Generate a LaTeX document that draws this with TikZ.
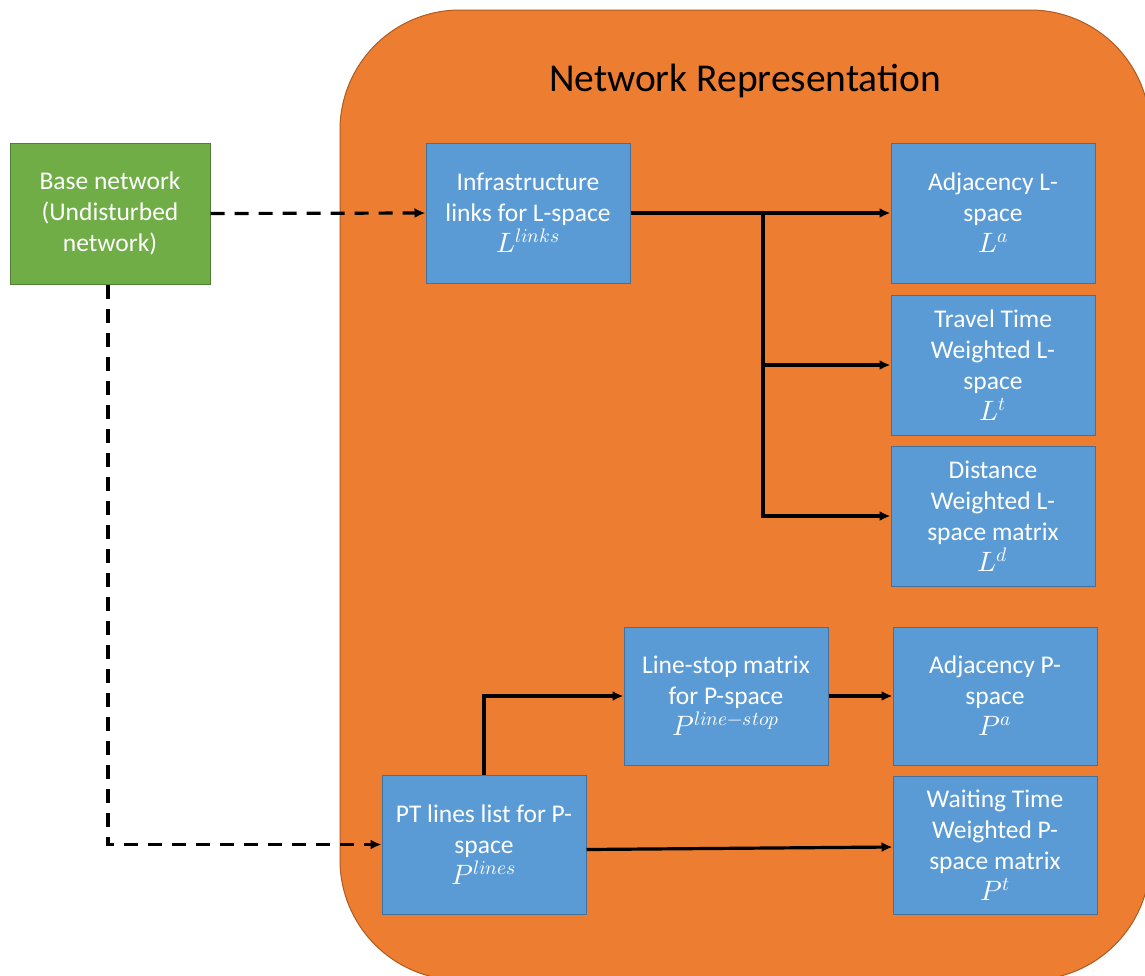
\documentclass[tikz,border=0pt]{standalone}
\usepackage{unicode-math}
\setmainfont{Carlito}
\setmathfont{Latin Modern Math}
\usetikzlibrary{arrows.meta}
\definecolor{panelorange}{HTML}{ED7D31}
\definecolor{panelborder}{HTML}{AE5A21}
\definecolor{boxblue}{HTML}{5B9BD5}
\definecolor{boxblueborder}{HTML}{41719C}
\definecolor{boxgreen}{HTML}{70AD47}
\definecolor{boxgreenborder}{HTML}{507E32}
% symbol line set slightly larger than the labels above it
\newcommand{\symline}[1]{{\fontsize{28pt}{31pt}\selectfont$#1$}}
\tikzset{
  stepbox/.style={draw=boxblueborder, line width=1pt, fill=boxblue, text=white,
    minimum width=204pt, minimum height=140pt, inner sep=0pt, align=center,
    font=\fontsize{25.5pt}{31pt}\selectfont},
  sourcebox/.style={stepbox, draw=boxgreenborder, fill=boxgreen, minimum width=200pt, minimum height=141pt},
  link/.style={line width=3.2pt, -{Latex[length=11pt,width=10pt]}},
  dashlink/.style={link, dash pattern=on 14pt off 10pt},
}
\begin{document}
\begin{tikzpicture}[x=1pt, y=-1pt]
  \useasboundingbox (0,0) rectangle (1145,975);
  % rounded panel that frames the representations
  \begin{scope}
    \clip (0,0) rectangle (1145,975);
    \draw[panelborder, line width=1pt, fill=panelorange, rounded corners=120pt]
      (340,10) rectangle (1150,980);
  \end{scope}
  \node[font=\fontsize{39.5pt}{46pt}\selectfont] (title) at (745,81) {Network Representation};

  % boxes
  \node[sourcebox] (base) at (110,213.5) {Base network\\(Undisturbed\\network)};
  \node[stepbox] (infra) at (528,213) {Infrastructure\\links for L-space\\\symline{L^{links}}};
  \node[stepbox] (adjL) at (993,213) {Adjacency L-\\space\\\symline{L^{a}}};
  \node[stepbox] (travel) at (993,365) {Travel Time\\Weighted L-\\space\\\symline{L^{t}}};
  \node[stepbox] (dist) at (993,516) {Distance\\Weighted L-\\space matrix\\\symline{L^{d}}};
  \node[stepbox, minimum height=138pt] (linestop) at (726,696) {Line-stop matrix\\for P-space\\\symline{P^{line-stop}}};
  \node[stepbox, minimum height=138pt] (adjP) at (995,696) {Adjacency P-\\space\\\symline{P^{a}}};
  \node[stepbox, minimum height=139pt] (pt) at (484,844.5) {PT lines list for P-\\space\\\symline{P^{lines}}};
  \node[stepbox, minimum height=138pt] (wait) at (995,845) {Waiting Time\\Weighted P-\\space matrix\\\symline{P^{t}}};

  % connectors
  \draw[dashlink] (base.east) -- (infra.west);
  \draw[dashlink] ([xshift=-2pt]base.south) |- (pt.west);
  \draw[link] (infra.east) -- (adjL.west);
  \coordinate (split) at (763,213);
  \draw[link] (split) |- (travel.west);
  \draw[link] (split) |- (dist.west);
  \draw[link] (pt.north) |- (linestop.west);
  \draw[link] (linestop.east) -- (adjP.west);
  \draw[link] ([yshift=-5pt]pt.east) -- ([yshift=-2pt]wait.west);
\end{tikzpicture}
\end{document}
